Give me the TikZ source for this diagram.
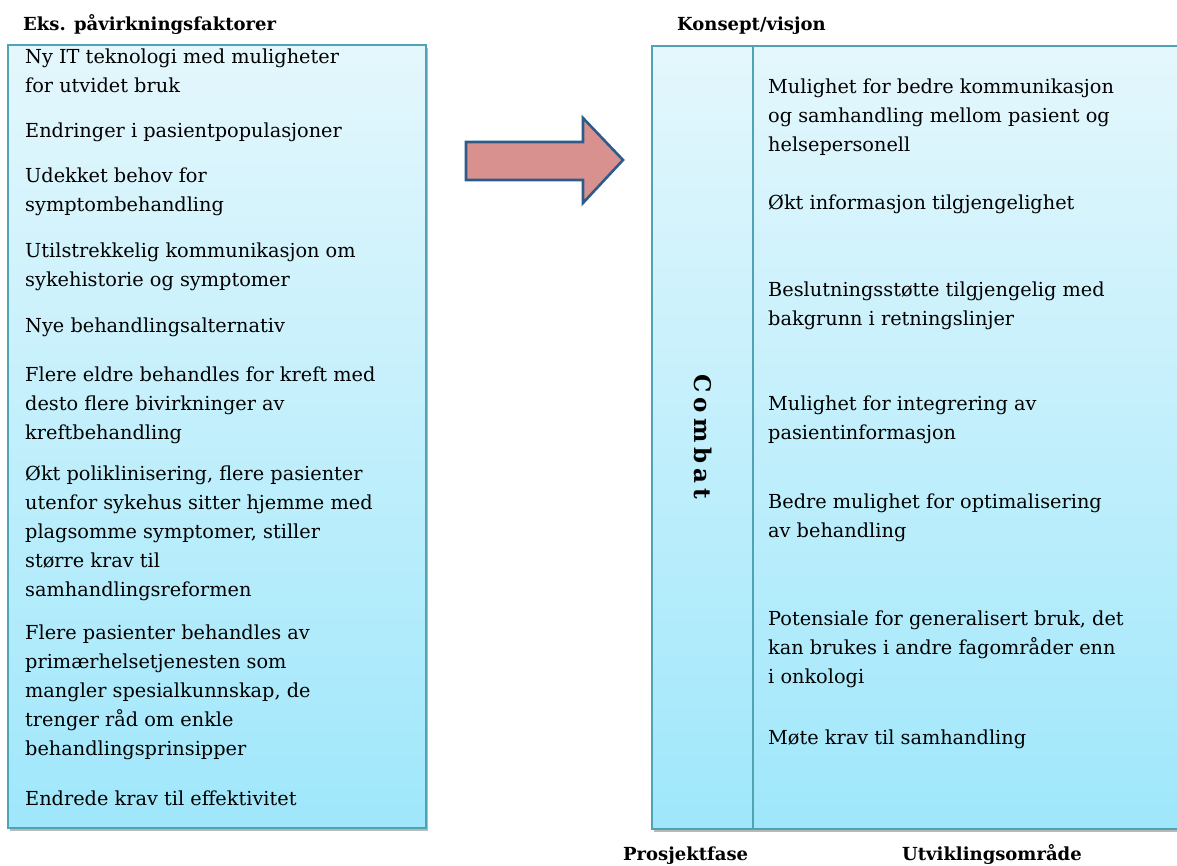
\documentclass[tikz,border=0pt]{standalone}
\usepackage{fontspec}
\setmainfont{DejaVu Serif}
\newfontfamily\combatfont[LetterSpace=22]{DejaVu Serif}
\definecolor{boxtop}{HTML}{E4F7FC}
\definecolor{boxbot}{HTML}{9FE7FB}
\definecolor{boxline}{HTML}{4FA3B5}
\definecolor{arrfill}{HTML}{D9918F}
\definecolor{arrline}{HTML}{2E5C8A}
\newcommand{\ml}[1]{\begin{tabular}[t]{@{}l@{}}#1\end{tabular}}
\begin{document}
\begin{tikzpicture}[x=1pt,y=-1pt,
  body/.style={anchor=base west, inner sep=0pt, font=\fontsize{19.3}{29}\selectfont},
  head/.style={anchor=base west, inner sep=0pt, font=\fontsize{18}{21}\selectfont\bfseries},
  panel/.style={draw=boxline, line width=1.2pt, top color=boxtop, bottom color=boxbot},
  shadow/.style={fill=black!28}]
\useasboundingbox (0,0) rectangle (1177,866);
% left panel
\fill[shadow] (10,48) rectangle (428,831);
\path[panel] (8,45) rectangle (426,828);
% right panel
\fill[shadow] (654,49) rectangle (1190,832);
\path[panel] (652,46) rectangle (1190,829);
\coordinate (dtop) at (753,46);
\coordinate (dbot) at (753,829);
\draw[boxline, line width=1.2pt] (dtop) -- (dbot);
% arrow
\draw[arrline, line width=2.6pt, fill=arrfill, line join=miter]
  (466,142) -- (583,142) -- (583,118) -- (623,160) -- (583,203) -- (583,180) -- (466,180) -- cycle;
% headers
\node[head] (hl) at (23,31) {Eks. påvirkningsfaktorer};
\node[head] (hr) at (677,31) {Konsept/visjon};
\node[head] (bl) at (623,860) {Prosjektfase};
\node[head] (br) at (902,860) {Utviklingsområde};
% left items
\node[body] (l1) at (25,64) {\ml{Ny IT teknologi med muligheter\\for utvidet bruk}};
\node[body] (l2) at (25,138) {\ml{Endringer i pasientpopulasjoner}};
\node[body] (l3) at (25,183) {\ml{Udekket behov for\\symptombehandling}};
\node[body] (l4) at (25,258) {\ml{Utilstrekkelig kommunikasjon om\\sykehistorie og symptomer}};
\node[body] (l5) at (25,333) {\ml{Nye behandlingsalternativ}};
\node[body] (l6) at (25,381) {\ml{Flere eldre behandles for kreft med\\desto flere bivirkninger av\\kreftbehandling}};
\node[body] (l7) at (25,480) {\ml{Økt poliklinisering, flere pasienter\\utenfor sykehus sitter hjemme med\\plagsomme symptomer, stiller\\større krav til\\samhandlingsreformen}};
\node[body] (l8) at (25,639) {\ml{Flere pasienter behandles av\\primærhelsetjenesten som\\mangler spesialkunnskap, de\\trenger råd om enkle\\behandlingsprinsipper}};
\node[body] (l9) at (25,805) {\ml{Endrede krav til effektivitet}};
% right items
\node[body] (r1) at (768,94) {\ml{Mulighet for bedre kommunikasjon\\og samhandling mellom pasient og\\helsepersonell}};
\node[body] (r2) at (768,210) {\ml{Økt informasjon tilgjengelighet}};
\node[body] (r3) at (768,297) {\ml{Beslutningsstøtte tilgjengelig med\\bakgrunn i retningslinjer}};
\node[body] (r4) at (768,410) {\ml{Mulighet for integrering av\\pasientinformasjon}};
\node[body] (r5) at (768,508) {\ml{Bedre mulighet for optimalisering\\av behandling}};
\node[body] (r6) at (768,625) {\ml{Potensiale for generalisert bruk, det\\kan brukes i andre fagområder enn\\i onkologi}};
\node[body] (r7) at (768,744) {\ml{Møte krav til samhandling}};
% Combat
\node[rotate=-90, inner sep=0pt, font=\combatfont\bfseries\fontsize{23}{27}\selectfont] (combat) at (703,437) {Combat};
\end{tikzpicture}
\end{document}
